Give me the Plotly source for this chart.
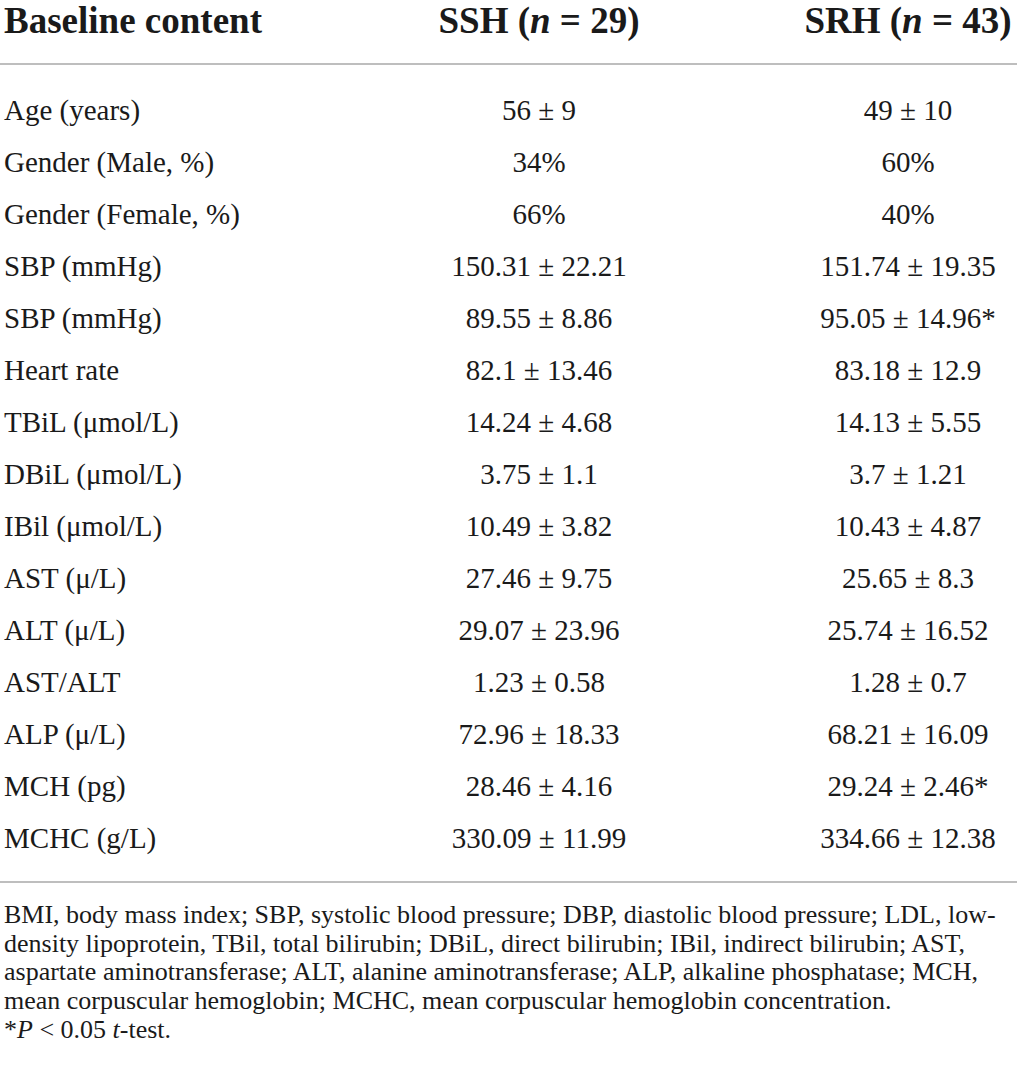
import plotly.graph_objects as go

# table contents
row_labels = [
    "Age (years)", "Gender (Male, %)", "Gender (Female, %)", "SBP (mmHg)", "SBP (mmHg)",
    "Heart rate", "TBiL (μmol/L)", "DBiL (μmol/L)", "IBil (μmol/L)", "AST (μ/L)",
    "ALT (μ/L)", "AST/ALT", "ALP (μ/L)", "MCH (pg)", "MCHC (g/L)",
]
ssh_values = [
    "56 ± 9", "34%", "66%", "150.31 ± 22.21", "89.55 ± 8.86", "82.1 ± 13.46",
    "14.24 ± 4.68", "3.75 ± 1.1", "10.49 ± 3.82", "27.46 ± 9.75", "29.07 ± 23.96",
    "1.23 ± 0.58", "72.96 ± 18.33", "28.46 ± 4.16", "330.09 ± 11.99",
]
srh_values = [
    "49 ± 10", "60%", "40%", "151.74 ± 19.35", "95.05 ± 14.96*", "83.18 ± 12.9",
    "14.13 ± 5.55", "3.7 ± 1.21", "10.43 ± 4.87", "25.65 ± 8.3", "25.74 ± 16.52",
    "1.28 ± 0.7", "68.21 ± 16.09", "29.24 ± 2.46*", "334.66 ± 12.38",
]
headers = ["Baseline content", "SSH (<i>n</i> = 29)", "SRH (<i>n</i> = 43)"]
footnote = [
    "BMI, body mass index; SBP, systolic blood pressure; DBP, diastolic blood pressure; LDL, low-",
    "density lipoprotein, TBil, total bilirubin; DBiL, direct bilirubin; IBil, indirect bilirubin; AST,",
    "aspartate aminotransferase; ALT, alanine aminotransferase; ALP, alkaline phosphatase; MCH,",
    "mean corpuscular hemoglobin; MCHC, mean corpuscular hemoglobin concentration.",
    "*<i>P</i> < 0.05 <i>t</i>-test.",
]

W, H = 1017, 1079
FONT = "Liberation Serif"
INK = "#1a1a1a"
RULE = "#a8a8a8"

row_y = [113 + 52 * i for i in range(len(row_labels))]
foot_y = [916, 945, 973, 1002, 1031]
col_x = [4, 539, 908]

fig = go.Figure()
fig.add_trace(go.Scatter(
    x=[col_x[0]] * len(row_labels), y=row_y, text=row_labels, mode="text", cliponaxis=False,
    textposition="middle right", textfont=dict(family=FONT, size=29, color=INK),
))
for cx, vals in ((col_x[1], ssh_values), (col_x[2], srh_values)):
    fig.add_trace(go.Scatter(
        x=[cx] * len(vals), y=row_y, text=vals, mode="text", cliponaxis=False,
        textposition="middle center", textfont=dict(family=FONT, size=29, color=INK),
    ))
fig.add_trace(go.Scatter(
    x=col_x, y=[24] * 3, text=[f"<b>{h}</b>" for h in headers], mode="text", cliponaxis=False,
    textposition=["middle right", "middle center", "middle center"],
    textfont=dict(family=FONT, size=37, color=INK),
))
fig.add_trace(go.Scatter(
    x=[col_x[0]] * len(footnote), y=foot_y, text=footnote, mode="text", cliponaxis=False,
    textposition="middle right", textfont=dict(family=FONT, size=26, color=INK),
))

for yy in (64, 882):
    fig.add_shape(type="line", x0=0, x1=W, y0=yy, y1=yy, line=dict(color=RULE, width=1.5))

fig.update_layout(
    width=W, height=H, margin=dict(l=0, r=0, t=0, b=0),
    paper_bgcolor="white", plot_bgcolor="white", showlegend=False,
    xaxis=dict(range=[0, W], visible=False, fixedrange=True),
    yaxis=dict(range=[H, 0], visible=False, fixedrange=True),
)
# drop the browser's default 8px body margin so the table sits flush
fig.write_html(
    "out.html",
    config={"displayModeBar": False},
    post_script="document.body.style.margin='0';",
)
